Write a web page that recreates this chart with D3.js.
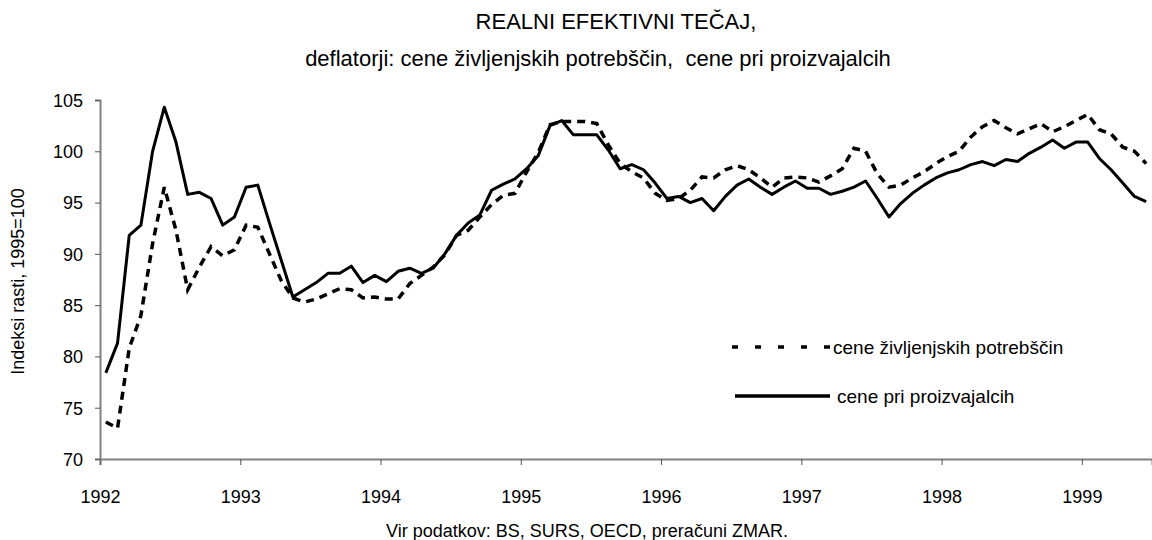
<!DOCTYPE html>
<html><head><meta charset="utf-8">
<script src="https://cdn.jsdelivr.net/npm/d3@7"></script>
<style>
html,body{margin:0;padding:0;background:#fff;}
svg{display:block;font-family:"Liberation Sans",Arial,sans-serif;}
</style></head>
<body>
<svg id="chart" width="1152" height="540"></svg>
<script>
const startYear = 1992;
const yearTicks = [1992,1993,1994,1995,1996,1997,1998,1999];
const yTicks = [70,75,80,85,90,95,100,105];
const seriesNames = ["cene življenjskih potrebščin","cene pri proizvajalcih"];
// monthly values, Jan 1992 - Jun 1999
const cpi = [73.6,73.0,80.8,84.0,91.0,96.5,92.3,86.5,88.7,90.7,89.8,90.4,
  92.8,92.6,90.0,87.4,85.7,85.3,85.6,86.1,86.6,86.5,85.7,85.8,
  85.6,85.6,87.1,87.9,88.7,89.9,91.8,92.3,93.6,94.8,95.7,95.9,
  98.0,99.9,102.6,102.9,102.9,102.9,102.7,100.6,98.8,98.0,97.4,95.9,
  95.2,95.4,96.2,97.5,97.4,98.2,98.6,98.2,97.4,96.5,97.4,97.5,
  97.4,97.0,97.6,98.3,100.3,100.0,97.8,96.5,96.7,97.4,98.0,98.8,
  99.5,100.0,101.4,102.4,103.0,102.3,101.7,102.2,102.7,101.9,102.4,103.0,
  103.6,102.1,101.7,100.4,100.0,98.8];
const ppi = [78.4,81.3,91.8,92.8,100.0,104.3,100.9,95.8,96.0,95.4,92.8,93.6,
  96.5,96.7,93.0,89.4,85.8,86.5,87.2,88.1,88.1,88.8,87.2,87.9,
  87.3,88.3,88.6,88.1,88.6,90.0,91.8,93.0,93.8,96.2,96.8,97.3,
  98.3,99.6,102.5,103.0,101.6,101.6,101.6,100.1,98.3,98.7,98.2,96.9,
  95.4,95.6,95.0,95.4,94.2,95.6,96.7,97.3,96.5,95.8,96.5,97.1,
  96.4,96.4,95.8,96.1,96.5,97.1,95.4,93.6,94.9,95.9,96.7,97.4,
  97.9,98.2,98.7,99.0,98.6,99.2,99.0,99.8,100.4,101.1,100.3,100.9,
  100.9,99.3,98.2,96.9,95.6,95.1];

const svg = d3.select("#chart");
const L = 100, R = 1152, T = 100, B = 459;
const FS = 18;
const nMonths = cpi.length;
const x = d3.scaleLinear().domain([startYear, startYear + nMonths/12]).range([L, R]);
const y = d3.scaleLinear().domain([70,105]).range([B, T]);
const mx = i => x(startYear + (i + 0.5)/12);

// titles
svg.append("text").attr("x",616).attr("y",29).attr("text-anchor","middle")
  .attr("font-size",22).text("REALNI EFEKTIVNI TEČAJ,");
svg.append("text").attr("x",598).attr("y",66).attr("text-anchor","middle")
  .attr("font-size",22).style("white-space","pre")
  .text("deflatorji: cene življenjskih potrebščin,  cene pri proizvajalcih");

// axes
const gx = svg.append("g").attr("transform",`translate(0,${B})`)
  .call(d3.axisBottom(x).tickValues(yearTicks).tickFormat(d3.format("d")).tickSize(6).tickPadding(28));
const gy = svg.append("g").attr("transform",`translate(${L},0)`)
  .call(d3.axisLeft(y).tickValues(yTicks).tickSize(5).tickPadding(12));
[gx,gy].forEach(g=>{
  g.select(".domain").attr("stroke","#808080").attr("stroke-width",2);
  g.selectAll(".tick line").attr("stroke","#555").attr("stroke-width",1);
  g.selectAll(".tick text").attr("font-size",FS).attr("fill","#000")
   .attr("font-family","'Liberation Sans',Arial,sans-serif");
});
gy.selectAll(".tick text").attr("dy","0.35em");
gx.selectAll(".tick text").attr("dy","0.55em");

svg.append("text").attr("transform",`translate(24,${(T+B)/2+2}) rotate(-90)`)
  .attr("text-anchor","middle").attr("font-size",FS).text("Indeksi rasti, 1995=100");
svg.append("text").attr("x",587).attr("y",537).attr("text-anchor","middle")
  .attr("font-size",FS).text("Vir podatkov: BS, SURS, OECD, preračuni ZMAR.");

// lines
const line = d3.line().x((d,i)=>mx(i)).y(d=>y(d));
svg.append("clipPath").attr("id","cp").append("rect")
  .attr("x",L).attr("y",0).attr("width",R-L).attr("height",B);
svg.append("path").datum(cpi).attr("d",line).attr("fill","none").attr("stroke","#000")
  .attr("stroke-width",3.5).attr("stroke-dasharray","8,6").attr("clip-path","url(#cp)");
svg.append("path").datum(ppi).attr("d",line).attr("fill","none").attr("stroke","#000")
  .attr("stroke-width",3).attr("stroke-linejoin","round").attr("clip-path","url(#cp)");

// legend
const leg = svg.append("g");
leg.append("line").attr("x1",732).attr("x2",830).attr("y1",347).attr("y2",347)
  .attr("stroke","#000").attr("stroke-width",3.5).attr("stroke-dasharray","6,17");
leg.append("text").attr("x",833).attr("y",354).attr("font-size",19).text(seriesNames[0]);
leg.append("line").attr("x1",735).attr("x2",830).attr("y1",396).attr("y2",396)
  .attr("stroke","#000").attr("stroke-width",3.5);
leg.append("text").attr("x",837).attr("y",403).attr("font-size",19).text(seriesNames[1]);
</script>
</body></html>
